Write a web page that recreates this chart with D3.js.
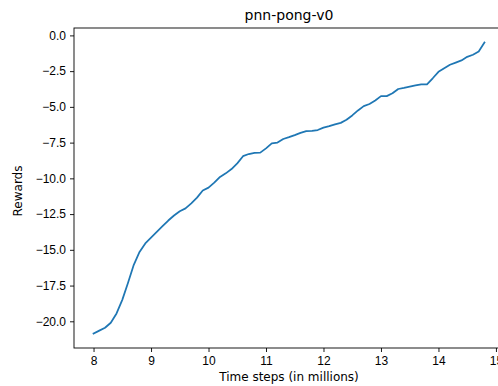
<!DOCTYPE html>
<html>
<head>
<meta charset="utf-8">
<script src="https://cdn.jsdelivr.net/npm/d3@7"></script>
<style>
  body { margin: 0; background: #fff; }
  svg { display: block; font-family: "DejaVu Sans", sans-serif; }
  .axis path, .axis line { stroke: #000; stroke-width: 0.9; }
  .axis text { fill: #000; font-size: 12px; }
</style>
</head>
<body>
<div class="chart"></div>
<script>
// time steps (millions) and smoothed rewards
const steps = [8.0, 8.1, 8.2, 8.3, 8.4, 8.5, 8.6, 8.7, 8.8, 8.9,
  9.0, 9.1, 9.2, 9.3, 9.4, 9.5, 9.6, 9.7, 9.8, 9.9,
  10.0, 10.1, 10.2, 10.3, 10.4, 10.5, 10.6, 10.7, 10.8, 10.9,
  11.0, 11.1, 11.2, 11.3, 11.4, 11.5, 11.6, 11.7, 11.8, 11.9,
  12.0, 12.1, 12.2, 12.3, 12.4, 12.5, 12.6, 12.7, 12.8, 12.9,
  13.0, 13.1, 13.2, 13.3, 13.4, 13.5, 13.6, 13.7, 13.8, 13.9,
  14.0, 14.1, 14.2, 14.3, 14.4, 14.5, 14.6, 14.7, 14.8];
const rewards = [-20.85, -20.65, -20.45, -20.1, -19.45, -18.5, -17.3, -16.05, -15.15, -14.55,
  -14.15, -13.75, -13.35, -12.95, -12.6, -12.3, -12.1, -11.75, -11.35, -10.85,
  -10.65, -10.3, -9.9, -9.65, -9.35, -8.95, -8.45, -8.3, -8.22, -8.2,
  -7.9, -7.55, -7.5, -7.25, -7.12, -6.98, -6.82, -6.7, -6.68, -6.62,
  -6.45, -6.35, -6.22, -6.12, -5.9, -5.6, -5.25, -4.95, -4.8, -4.55,
  -4.25, -4.25, -4.05, -3.75, -3.67, -3.58, -3.5, -3.42, -3.43, -3.0,
  -2.55, -2.3, -2.05, -1.9, -1.75, -1.5, -1.35, -1.12, -0.5];
const xTicks = [8, 9, 10, 11, 12, 13, 14, 15];
const yTicks = [0, -2.5, -5, -7.5, -10, -12.5, -15, -17.5, -20];

const title = "pnn-pong-v0";
const xLabel = "Time steps (in millions)";
const yLabel = "Rewards";

let width = 498, height = 386;
// the right spine sits just past the picture edge, as in the reference
let margin = {top: 28, left: 74, bottom: 38, right: -6};
let insideWidth = width - margin.left - margin.right;
let insideHeight = height - margin.top - margin.bottom;

let svg = d3.select(".chart").append("svg")
  .attr("width", width)
  .attr("height", height);

let g = svg.append("g").attr("transform", "translate(" + margin.left + "," + margin.top + ")");

// matplotlib style 5% padding on both axes
let xExt = d3.extent(steps), yExt = d3.extent(rewards);
let xPad = (xExt[1] - xExt[0]) * 0.05, yPad = (yExt[1] - yExt[0]) * 0.05;

let xScale = d3.scaleLinear()
  .domain([xExt[0] - xPad, xExt[1] + xPad])
  .range([0, insideWidth]);
let yScale = d3.scaleLinear()
  .domain([yExt[0] - yPad, yExt[1] + yPad])
  .range([insideHeight, 0]);

let items = steps.map(function(s, i) { return {step: s, value: rewards[i]}; });

let line = d3.line()
  .x(function(d) { return xScale(d.step); })
  .y(function(d) { return yScale(d.value); });

g.append("path")
  .datum(items)
  .attr("fill", "none")
  .attr("stroke", "#1f77b4")
  .attr("stroke-width", 1.75)
  .attr("stroke-linejoin", "round")
  .attr("stroke-linecap", "square")
  .attr("d", line);

// axes
g.append("g")
  .attr("class", "axis axis--x")
  .attr("transform", "translate(0," + insideHeight + ")")
  .call(d3.axisBottom(xScale).tickValues(xTicks).tickSize(4).tickPadding(4)
    .tickFormat(d3.format("d")))
  .call(function(a) { a.select(".domain").remove(); });

g.append("g")
  .attr("class", "axis axis--y")
  .call(d3.axisLeft(yScale).tickValues(yTicks).tickSize(4).tickPadding(4)
    .tickFormat(function(d) { return d3.format(".1f")(d).replace("-", "\u2212"); }))
  .call(function(a) { a.select(".domain").remove(); });

// frame (spines)
g.append("rect")
  .attr("width", insideWidth)
  .attr("height", insideHeight)
  .attr("fill", "none")
  .attr("stroke", "#000")
  .attr("stroke-width", 0.9);

// labels
svg.append("text")
  .attr("x", margin.left + insideWidth / 2)
  .attr("y", 20)
  .attr("text-anchor", "middle")
  .style("font-size", "14px")
  .text(title);

svg.append("text")
  .attr("x", margin.left + insideWidth / 2)
  .attr("y", 381)
  .attr("text-anchor", "middle")
  .style("font-size", "12px")
  .text(xLabel);

svg.append("text")
  .attr("transform", "translate(22," + (margin.top + insideHeight / 2 + 3) + ") rotate(-90)")
  .attr("text-anchor", "middle")
  .style("font-size", "12px")
  .text(yLabel);
</script>
</body>
</html>
